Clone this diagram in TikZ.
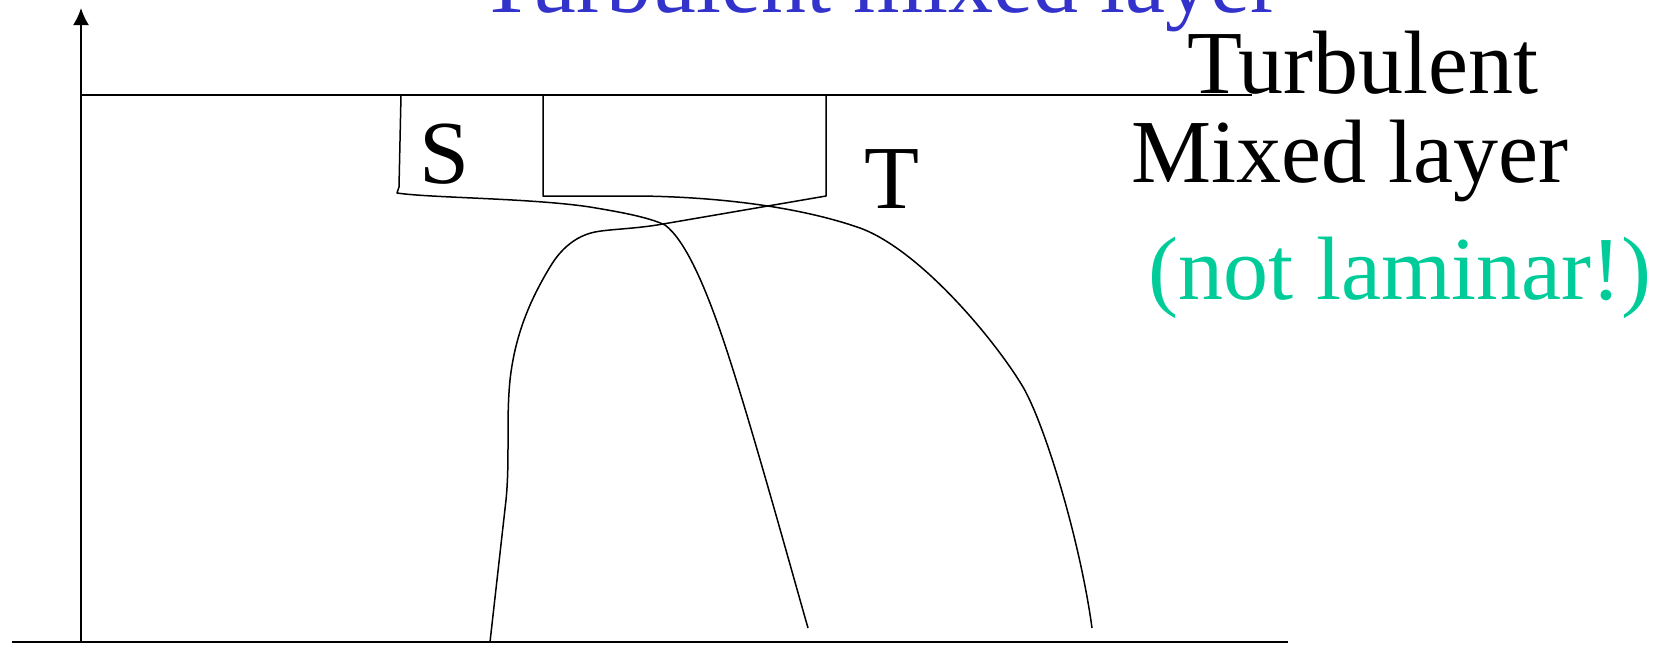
\documentclass[tikz,border=0pt]{standalone}
\usepackage{fontspec}
\setmainfont{Liberation Serif}
\usetikzlibrary{arrows.meta}
\definecolor{titleblue}{RGB}{51,51,204}
\definecolor{notgreen}{RGB}{0,204,153}
\begin{document}
\begin{tikzpicture}[x=0.5pt,y=-0.5pt,
  axis/.style={line width=1pt},
  prof/.style={line width=0.75pt, line join=round},
  lbl/.style={font=\fontsize{45}{54}\selectfont, inner sep=0pt, anchor=base}]
\useasboundingbox (0,0) rectangle (1658,644);
% axes
\coordinate (o) at (81,642);
\coordinate (ytop) at (81,8);
\coordinate (xl) at (12,642);
\coordinate (xr) at (1288,642);
\draw[axis,-{Latex[length=8.5pt,width=8pt]}] (o) -- (ytop);
\draw[axis] (xl) -- (xr);
% top of mixed layer
\coordinate (mlL) at (81,95);
\coordinate (mlR) at (1252,95);
\draw[axis] (mlL) -- (mlR);
% S profile
\draw[prof] (401,95) -- (399,187) -- (397,193)
  .. controls (430,198) and (530,198) .. (590,207)
  .. controls (620,212) and (648,217) .. (665,225)
  .. controls (685,240) and (705,285) .. (725,345)
  .. controls (750,420) and (790,565) .. (808,628);
% T profile (box + right curve)
\draw[prof] (543,95) -- (543,196) -- (640,196)
  .. controls (720,197) and (800,207) .. (860,228)
  .. controls (920,250) and (995,340) .. (1023,387)
  .. controls (1045,425) and (1080,540) .. (1092,628);
% crossing profile
\draw[prof] (826,95) -- (826,196) -- (663,224)
  .. controls (635,229) and (610,229) .. (595,232)
  .. controls (575,236) and (560,250) .. (550,267)
  .. controls (530,300) and (515,335) .. (510,380)
  .. controls (506,420) and (510,460) .. (506,500)
  -- (490,642);
% labels
\node[lbl,text=titleblue] (title) at (880,12) {Turbulent mixed layer};
\node[lbl] (turb) at (1363,93) {Turbulent};
\node[lbl] (mixed) at (1350,182) {Mixed layer};
\node[lbl,text=notgreen] (notlam) at (1400,299) {(not laminar!)};
\node[lbl] (S) at (445,183) {S};
\node[lbl] (T) at (892,208) {T};
\end{tikzpicture}
\end{document}
